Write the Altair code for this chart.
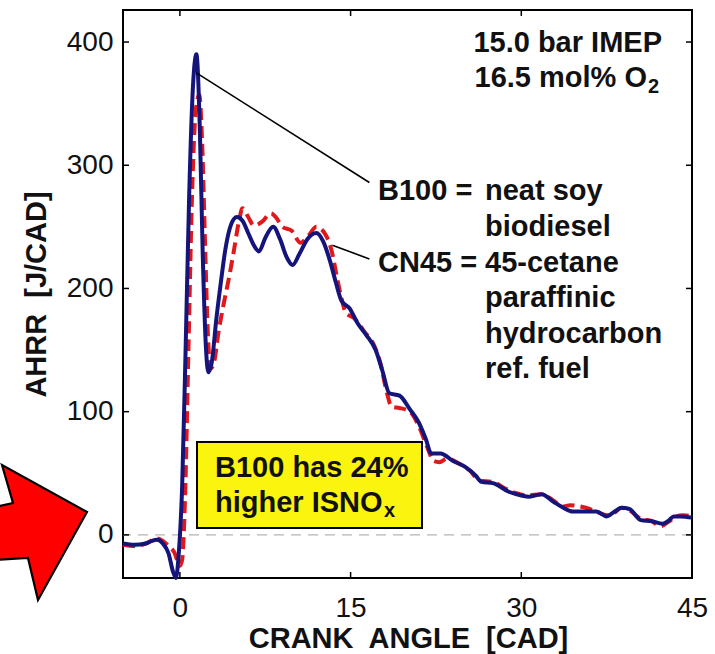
import altair as alt
import pandas as pd

# Apparent heat-release rate traces: crank angle [CAD] vs AHRR [J/CAD]
b100_cad = [-5, -4, -3, -2.5, -2, -1.5, -1, -0.6, -0.35, -0.1, 0.2, 0.5, 0.8, 1.1, 1.45,
            1.75, 2.0, 2.3, 2.5, 2.8, 3.2, 3.6, 4.0, 4.5, 5.0, 5.5, 6.0, 6.5, 6.95, 7.5,
            8.2, 8.8, 9.4, 9.9, 10.5, 11.2, 12.0, 12.6, 13.2, 13.7, 14.2, 14.9, 15.6,
            16.4, 17.2, 17.8, 18.4, 19.3, 20.2, 21.0, 21.6, 22.1, 22.9, 24.0, 25.1, 26.0,
            26.5, 27.5, 28.9, 30.0, 30.7, 31.8, 32.8, 33.7, 34.5, 35.5, 36.6, 37.5, 38.2,
            38.8, 39.5, 40.5, 41.5, 42.4, 43.0, 43.4, 44.0, 45.0]
b100_ahrr = [-7, -8, -7, -5, -4, -7, -15, -30, -35, -15, 40, 150, 270, 355, 390,
             330, 230, 150, 132, 140, 175, 205, 232, 252, 258, 255, 245, 235, 230, 241,
             250, 240, 225, 219, 228, 240, 245, 238, 222, 205, 190, 184, 172,
             162, 150, 133, 115, 113, 102, 91, 78, 66, 66, 60, 55, 48,
             43, 42, 35, 32, 31, 33, 27, 22, 19, 19, 19, 15, 19,
             22, 21, 12, 11, 9, 12, 15, 15, 14]

cn45_cad = [-5, -4, -3, -2, -1.5, -1, -0.5, 0, 0.2, 0.45, 0.75, 1.05, 1.4, 1.7, 1.95,
            2.2, 2.45, 2.7, 3.0, 3.4, 3.9, 4.3, 4.75, 5.2, 5.5, 6.0, 6.5, 7.2, 8.0, 8.5,
            9.0, 9.8, 10.6, 11.3, 12.0, 12.9, 13.4, 13.8, 14.2, 14.6, 15.3, 16.2, 17.0,
            17.6, 18.2, 18.6, 19.3, 20.2, 21.0, 21.7, 22.3, 22.8, 23.5, 24.5, 25.5, 26.3,
            27.5, 28.5, 29.5, 30.5, 31.8, 32.8, 33.6, 34.3, 35.2, 36.0, 36.8, 37.5, 38.2,
            38.8, 39.5, 40.5, 41.5, 42.2, 43.0, 43.6, 44.2, 45.0]
cn45_ahrr = [-8, -9, -7, -3, -5, -9, -14, -25, -20, 30, 150, 270, 345, 357, 320,
             240, 165, 135, 140, 165, 190, 208, 231, 255, 265, 258, 251, 254, 261, 257,
             250, 247, 237, 243, 250, 242, 228, 209, 192, 180, 176, 165, 155,
             140, 115, 104, 103, 100, 88, 72, 60, 59, 62, 58, 52, 44,
             43, 38, 34, 32, 33, 28, 23, 24, 23, 21, 18, 16, 18,
             22, 20, 13, 11, 7, 11, 15, 16, 15]

x_ticks = [0, 15, 30, 45]
y_ticks = [0, 100, 200, 300, 400]

# leader lines from the curves to the fuel descriptions (CAD, J/CAD)
leader_from_cad = [1.45, 13.4]
leader_from_ahrr = [375, 235]
leader_to_cad = [16.65, 16.65]
leader_to_ahrr = [286, 224]

W, H = 569, 568
FONT = "Liberation Sans"
INK = "#111111"

xscale = alt.Scale(domain=[-5, 45], nice=False, zero=False)
yscale = alt.Scale(domain=[-35, 426], nice=False, zero=False)

x_axis = alt.Axis(values=x_ticks, tickSize=0, domain=False, grid=False,
                  labelFont=FONT, labelFontSize=28, labelColor=INK, labelPadding=16,
                  labelFlush=False, labelOverlap=False,
                  title="CRANK\u00a0 ANGLE\u00a0 [CAD]", titleFont=FONT, titleFontSize=29,
                  titleFontWeight="bold", titleColor=INK, titleX=285, titleY=69,
                  titleAlign="center", titleBaseline="alphabetic")
y_axis = alt.Axis(values=y_ticks, tickSize=0, domain=False, grid=False,
                  labelFont=FONT, labelFontSize=28, labelColor=INK, labelPadding=10,
                  labelOverlap=False,
                  title="AHRR\u00a0 [J/CAD]", titleFont=FONT, titleFontSize=29,
                  titleFontWeight="bold", titleColor=INK, titleX=-78, titleY=284,
                  titleAngle=270, titleAlign="center", titleBaseline="alphabetic")


def xq(field="cad"):
    return alt.X(f"{field}:Q", scale=xscale, axis=x_axis)


def yq(field="ahrr"):
    return alt.Y(f"{field}:Q", scale=yscale, axis=y_axis)


b100 = pd.DataFrame({"cad": b100_cad, "ahrr": b100_ahrr})
cn45 = pd.DataFrame({"cad": cn45_cad, "ahrr": cn45_ahrr})

zero_line = alt.Chart(pd.DataFrame({"ahrr": [0]})).mark_rule(
    color="#b4b4b4", strokeWidth=1.2, strokeDash=[10, 7]
).encode(y=yq())

cn45_line = alt.Chart(cn45).mark_line(
    color="#e0181c", strokeWidth=4, strokeDash=[12, 6], interpolate="monotone"
).encode(x=xq(), y=yq())

b100_line = alt.Chart(b100).mark_line(
    color="#14147a", strokeWidth=4, interpolate="monotone"
).encode(x=xq(), y=yq())

leaders = alt.Chart(pd.DataFrame({
    "cad": leader_from_cad, "ahrr": leader_from_ahrr,
    "cad2": leader_to_cad, "ahrr2": leader_to_ahrr,
})).mark_rule(color="black", strokeWidth=1.6).encode(
    x=xq(), y=yq(), x2="cad2:Q", y2="ahrr2:Q",
)

# inward tick marks on all four sides of the frame
tick_len = 6
top_ticks = alt.Chart(pd.DataFrame({"cad": x_ticks})).mark_rule(color="black", strokeWidth=1.5).encode(
    x=xq(), y=alt.value(0), y2=alt.value(tick_len))
bottom_ticks = alt.Chart(pd.DataFrame({"cad": x_ticks})).mark_rule(color="black", strokeWidth=1.5).encode(
    x=xq(), y=alt.value(H - tick_len), y2=alt.value(H))
left_ticks = alt.Chart(pd.DataFrame({"ahrr": y_ticks})).mark_rule(color="black", strokeWidth=1.5).encode(
    y=yq(), x=alt.value(0), x2=alt.value(tick_len))
right_ticks = alt.Chart(pd.DataFrame({"ahrr": y_ticks})).mark_rule(color="black", strokeWidth=1.5).encode(
    y=yq(), x=alt.value(W - tick_len), x2=alt.value(W))

callout_box = alt.Chart(pd.DataFrame({"k": [0]})).mark_rect(
    fill="#fbf40f", stroke="black", strokeWidth=2
).encode(x=alt.value(74), x2=alt.value(299), y=alt.value(432), y2=alt.value(518))


def label(text, x, y, size=29, weight="bold", align="left"):
    return alt.Chart(pd.DataFrame({"t": [text]})).mark_text(
        align=align, baseline="alphabetic", font=FONT, fontSize=size,
        fontWeight=weight, color=INK
    ).encode(x=alt.value(x), y=alt.value(y), text="t:N")


labels = [
    label("15.0 bar IMEP", 539, 42, align="right"),
    label("16.5 mol% O", 524, 77, align="right"),
    label("2", 525, 83, size=20),
    label("B100 =", 255, 190),
    label("neat soy", 362, 190),
    label("biodiesel", 362, 226),
    label("CN45 =", 255, 262),
    label("45-cetane", 362, 262),
    label("paraffinic", 362, 297),
    label("hydrocarbon", 362, 333),
    label("ref. fuel", 362, 368),
    label("B100 has 24%", 92, 467),
    label("higher ISNO", 92, 502),
    label("x", 261, 507, size=20),
]

# big red arrow in the left margin, drawn as a custom symbol
ARROW = ("M -0.657 -0.364 L -0.4 -0.421 L -0.557 -0.964 L 0.657 -0.293 "
         "L -0.043 0.964 L -0.186 0.364 L -0.657 0.393 Z")
arrow = alt.Chart(pd.DataFrame({"k": [0]})).mark_point(
    shape=ARROW, size=19600, filled=True, fill="#ff0000", stroke="black",
    strokeWidth=2.2, opacity=1
).encode(x=alt.value(-82), y=alt.value(522.5))

chart = alt.layer(
    zero_line, cn45_line, b100_line, leaders,
    top_ticks, bottom_ticks, left_ticks, right_ticks,
    callout_box, *labels, arrow,
).properties(
    width=W, height=H,
    autosize=alt.AutoSizeParams(type="none"),
    padding={"left": 123, "top": 10, "right": 23, "bottom": 76},
    background="white",
).configure_view(
    stroke="black", strokeWidth=2
)

chart.save("out.html", embed_options={"renderer": "svg", "actions": False})
